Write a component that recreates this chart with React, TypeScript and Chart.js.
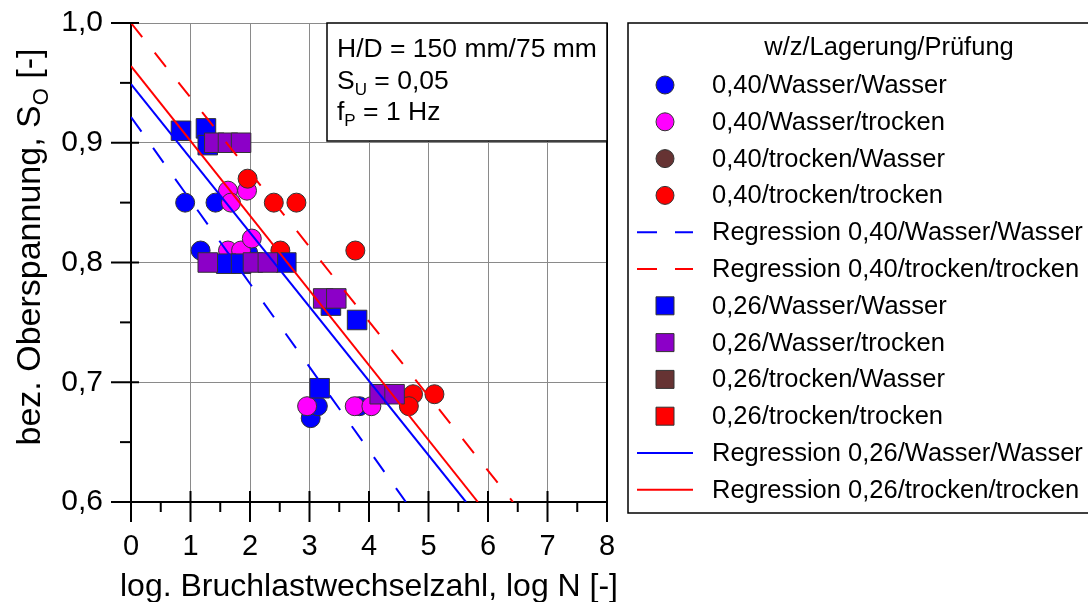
import React, { useEffect, useRef } from "react";
import { Chart, registerables } from "chart.js";

Chart.register(...registerables);

const FONT = '"Liberation Sans", Arial, Helvetica, sans-serif';

// ---- axis / text content ----
const xMin = 0;
const xMax = 8;
const yMin = 0.6;
const yMax = 1.0;
const xTitle = "log. Bruchlastwechselzahl, log N [-]";
const yTitleParts = ["bez. Oberspannung, S", "O", " [-]"];
const legendTitle = "w/z/Lagerung/Prüfung";
const infoLines = [
  ["H/D = 150 mm/75 mm", "", ""],
  ["S", "U", " = 0,05"],
  ["f", "P", " = 1 Hz"],
];

// ---- series labels ----
const labels = [
  "0,40/Wasser/Wasser",
  "0,40/Wasser/trocken",
  "0,40/trocken/Wasser",
  "0,40/trocken/trocken",
  "Regression 0,40/Wasser/Wasser",
  "Regression 0,40/trocken/trocken",
  "0,26/Wasser/Wasser",
  "0,26/Wasser/trocken",
  "0,26/trocken/Wasser",
  "0,26/trocken/trocken",
  "Regression 0,26/Wasser/Wasser",
  "Regression 0,26/trocken/trocken",
];

// ---- data (log N, S_O) ----
const w40WW_x = [0.91, 1.42, 1.17, 1.97, 3.02, 3.14, 3.84];
const w40WW_y = [0.85, 0.85, 0.81, 0.808, 0.67, 0.68, 0.68];
const w40WT_x = [1.63, 1.68, 1.95, 1.63, 1.85, 2.03, 2.96, 3.76, 4.04];
const w40WT_y = [0.86, 0.85, 0.86, 0.81, 0.81, 0.82, 0.68, 0.68, 0.68];
const w40TW_x: number[] = [];
const w40TW_y: number[] = [];
const w40TT_x = [1.96, 2.4, 2.78, 2.51, 3.77, 4.74, 4.67, 5.1];
const w40TT_y = [0.87, 0.85, 0.85, 0.81, 0.81, 0.69, 0.68, 0.69];
const reg40WW_x = [0, 4.62];
const reg40WW_y = [0.9215, 0.6];
const reg40TT_x = [0, 6.42];
const reg40TT_y = [1.0, 0.6];
const w26WW_x = [0.84, 1.26, 1.29, 1.6, 1.85, 2.61, 3.36, 3.8, 3.17];
const w26WW_y = [0.91, 0.912, 0.898, 0.799, 0.799, 0.8, 0.764, 0.752, 0.695];
const w26WT_x = [1.4, 1.63, 1.85, 1.29, 2.05, 2.3, 3.23, 3.45, 4.18, 4.43];
const w26WT_y = [0.9, 0.9, 0.9, 0.8, 0.8, 0.8, 0.77, 0.77, 0.69, 0.69];
const w26TW_x: number[] = [];
const w26TW_y: number[] = [];
const w26TT_x: number[] = [];
const w26TT_y: number[] = [];
const reg26WW_x = [0, 5.63];
const reg26WW_y = [0.949, 0.6];
const reg26TT_x = [0, 5.83];
const reg26TT_y = [0.964, 0.6];

const BLUE = "#0000ff";
const MAGENTA = "#ff00ff";
const BROWN = "#663333";
const RED = "#ff0000";
const PURPLE = "#8c00c8";
const EDGE = "#333333";

const zip = (xs: number[], ys: number[]) => xs.map((x, i) => ({ x, y: ys[i] }));

function pointSet(label: string, xs: number[], ys: number[], color: string, style: string, order: number) {
  return {
    label,
    data: zip(xs, ys),
    pointStyle: style,
    pointRadius: style === "rect" ? 13.8 : 9.5,
    pointBackgroundColor: color,
    pointBorderColor: EDGE,
    pointBorderWidth: 1,
    backgroundColor: color,
    borderColor: EDGE,
    showLine: false,
    order,
  };
}

function lineSet(label: string, xs: number[], ys: number[], color: string, dash: number[]) {
  return {
    label,
    data: zip(xs, ys),
    showLine: true,
    borderColor: color,
    backgroundColor: color,
    borderWidth: 2,
    borderDash: dash,
    pointRadius: 0,
    pointHoverRadius: 0,
    fill: false,
    order: 0,
  };
}

const FRAME_TOP = 23;

const decorPlugin = {
  id: "decor",
  afterDraw(chart: any) {
    const ctx: CanvasRenderingContext2D = chart.ctx;
    const { left, right, top, bottom } = chart.chartArea;
    const xs = chart.scales.x;
    const ys = chart.scales.y;
    ctx.save();

    // frame right
    ctx.strokeStyle = "#000";
    ctx.lineWidth = 2;
    ctx.beginPath();
    ctx.moveTo(right, top);
    ctx.lineTo(right, bottom);
    ctx.stroke();

    // axis ticks
    ctx.lineWidth = 2;
    ctx.strokeStyle = "#000";
    for (let v = xMin; v <= xMax + 1e-9; v += 0.5) {
      const px = xs.getPixelForValue(v);
      const major = Math.abs(v - Math.round(v)) < 1e-6;
      ctx.beginPath();
      ctx.moveTo(px, major ? bottom - 11 : bottom);
      ctx.lineTo(px, major ? bottom + 20 : bottom + 10);
      ctx.stroke();
    }
    for (let k = 0; k <= 8; k++) {
      const v = yMin + k * 0.05;
      const py = ys.getPixelForValue(v);
      const major = k % 2 === 0;
      ctx.beginPath();
      ctx.moveTo(major ? left - 20 : left - 11, py);
      ctx.lineTo(major ? left + 8 : left, py);
      ctx.stroke();
    }

    // x title
    ctx.fillStyle = "#000";
    ctx.font = `32px ${FONT}`;
    ctx.textAlign = "center";
    ctx.textBaseline = "middle";
    ctx.fillText(xTitle, (left + right) / 2, 587);

    // y title with subscript
    const mainF = `34px ${FONT}`;
    const subF = `22px ${FONT}`;
    ctx.font = mainF;
    const w1 = ctx.measureText(yTitleParts[0]).width;
    const w3 = ctx.measureText(yTitleParts[2]).width;
    ctx.font = subF;
    const w2 = ctx.measureText(yTitleParts[1]).width;
    const total = w1 + w2 + w3;
    ctx.translate(28, 247);
    ctx.rotate(-Math.PI / 2);
    ctx.textAlign = "left";
    ctx.textBaseline = "alphabetic";
    let cx = -total / 2;
    ctx.font = mainF;
    ctx.fillText(yTitleParts[0], cx, 12);
    cx += w1;
    ctx.font = subF;
    ctx.fillText(yTitleParts[1], cx, 20);
    cx += w2;
    ctx.font = mainF;
    ctx.fillText(yTitleParts[2], cx, 12);
    ctx.setTransform(1, 0, 0, 1, 0, 0);

    // info box
    const bx = 327;
    const by = FRAME_TOP;
    ctx.fillStyle = "#fff";
    ctx.fillRect(bx, by, right - bx, 141 - by);
    ctx.strokeStyle = "#000";
    ctx.lineWidth = 1.5;
    ctx.strokeRect(bx, by, right - bx, 141 - by);
    ctx.fillStyle = "#000";
    ctx.textAlign = "left";
    ctx.textBaseline = "alphabetic";
    infoLines.forEach((parts, i) => {
      const base = 57 + i * 31.5;
      let tx = 337;
      ctx.font = `26.5px ${FONT}`;
      ctx.fillText(parts[0], tx, base);
      tx += ctx.measureText(parts[0]).width;
      if (parts[1]) {
        ctx.font = `17px ${FONT}`;
        ctx.fillText(parts[1], tx, base + 6);
        tx += ctx.measureText(parts[1]).width;
      }
      ctx.font = `26.5px ${FONT}`;
      ctx.fillText(parts[2], tx, base);
    });

    // legend box
    const lx = 628;
    const ly = FRAME_TOP;
    ctx.fillStyle = "#fff";
    ctx.fillRect(lx, ly, 600, 513 - ly);
    ctx.strokeStyle = "#000";
    ctx.lineWidth = 1.5;
    ctx.strokeRect(lx, ly, 600, 513 - ly);
    ctx.fillStyle = "#000";
    ctx.font = `25.5px ${FONT}`;
    ctx.textAlign = "center";
    ctx.textBaseline = "middle";
    ctx.fillText(legendTitle, 889, 48);
    ctx.textAlign = "left";
    chart.data.datasets.forEach((ds: any, i: number) => {
      const cy = 85 + i * 36.8;
      const mx = 665;
      if (ds.showLine) {
        ctx.strokeStyle = ds.borderColor;
        ctx.lineWidth = 2;
        ctx.setLineDash(ds.borderDash && ds.borderDash.length ? [20, 18] : []);
        ctx.beginPath();
        ctx.moveTo(637, cy);
        ctx.lineTo(693, cy);
        ctx.stroke();
        ctx.setLineDash([]);
      } else {
        ctx.fillStyle = ds.pointBackgroundColor;
        ctx.strokeStyle = EDGE;
        ctx.lineWidth = 1;
        ctx.beginPath();
        if (ds.pointStyle === "rect") {
          ctx.rect(mx - 9, cy - 9, 18, 18);
        } else {
          ctx.arc(mx, cy, 9, 0, Math.PI * 2);
        }
        ctx.fill();
        ctx.stroke();
      }
      ctx.fillStyle = "#000";
      ctx.font = `25.5px ${FONT}`;
      ctx.fillText(ds.label, 712, cy + 1);
    });

    ctx.restore();
  },
};

export default function App() {
  const ref = useRef<HTMLCanvasElement | null>(null);
  useEffect(() => {
    if (!ref.current) return;
    const datasets: any[] = [
      pointSet(labels[0], w40WW_x, w40WW_y, BLUE, "circle", 5),
      pointSet(labels[1], w40WT_x, w40WT_y, MAGENTA, "circle", 4),
      pointSet(labels[2], w40TW_x, w40TW_y, BROWN, "circle", 4),
      pointSet(labels[3], w40TT_x, w40TT_y, RED, "circle", 3),
      lineSet(labels[4], reg40WW_x, reg40WW_y, BLUE, [18, 20]),
      lineSet(labels[5], reg40TT_x, reg40TT_y, RED, [18, 20]),
      pointSet(labels[6], w26WW_x, w26WW_y, BLUE, "rect", 2),
      pointSet(labels[7], w26WT_x, w26WT_y, PURPLE, "rect", 1),
      pointSet(labels[8], w26TW_x, w26TW_y, BROWN, "rect", 1),
      pointSet(labels[9], w26TT_x, w26TT_y, RED, "rect", 1),
      lineSet(labels[10], reg26WW_x, reg26WW_y, BLUE, []),
      lineSet(labels[11], reg26TT_x, reg26TT_y, RED, []),
    ];
    const chart = new Chart(ref.current, {
      type: "scatter",
      data: { datasets },
      options: {
        animation: false,
        responsive: false,
        events: [],
        layout: { padding: { top: FRAME_TOP, right: 481, bottom: 0, left: 0 } },
        plugins: {
          legend: { display: false },
          tooltip: { enabled: false },
          title: { display: false },
        },
        scales: {
          x: {
            type: "linear",
            min: xMin,
            max: xMax,
            afterFit: (s: any) => {
              s.height = 100;
              s.paddingLeft = 0;
              s.paddingRight = 0;
            },
            ticks: {
              stepSize: 1,
              color: "#000",
              font: { family: FONT, size: 29 },
              padding: 28,
              maxRotation: 0,
            },
            grid: { color: "#8a8a8a", lineWidth: 1, drawTicks: false },
            border: { display: true, color: "#000", width: 2 },
          },
          y: {
            type: "linear",
            min: yMin,
            max: yMax,
            afterFit: (s: any) => {
              s.width = 131;
              s.paddingTop = 0;
              s.paddingBottom = 0;
            },
            ticks: {
              stepSize: 0.1,
              color: "#000",
              font: { family: FONT, size: 30 },
              padding: 28,
              callback: (v: any) => Number(v).toFixed(1).replace(".", ","),
            },
            grid: { color: "#8a8a8a", lineWidth: 1, drawTicks: false },
            border: { display: true, color: "#000", width: 2 },
          },
        },
      },
      plugins: [decorPlugin],
    } as any);
    return () => chart.destroy();
  }, []);
  return (
    <div style={{ position: "absolute", left: 0, top: 0, width: 1088, height: 602, background: "#fff" }}>
      <canvas ref={ref} width={1088} height={602} style={{ display: "block" }} />
    </div>
  );
}
